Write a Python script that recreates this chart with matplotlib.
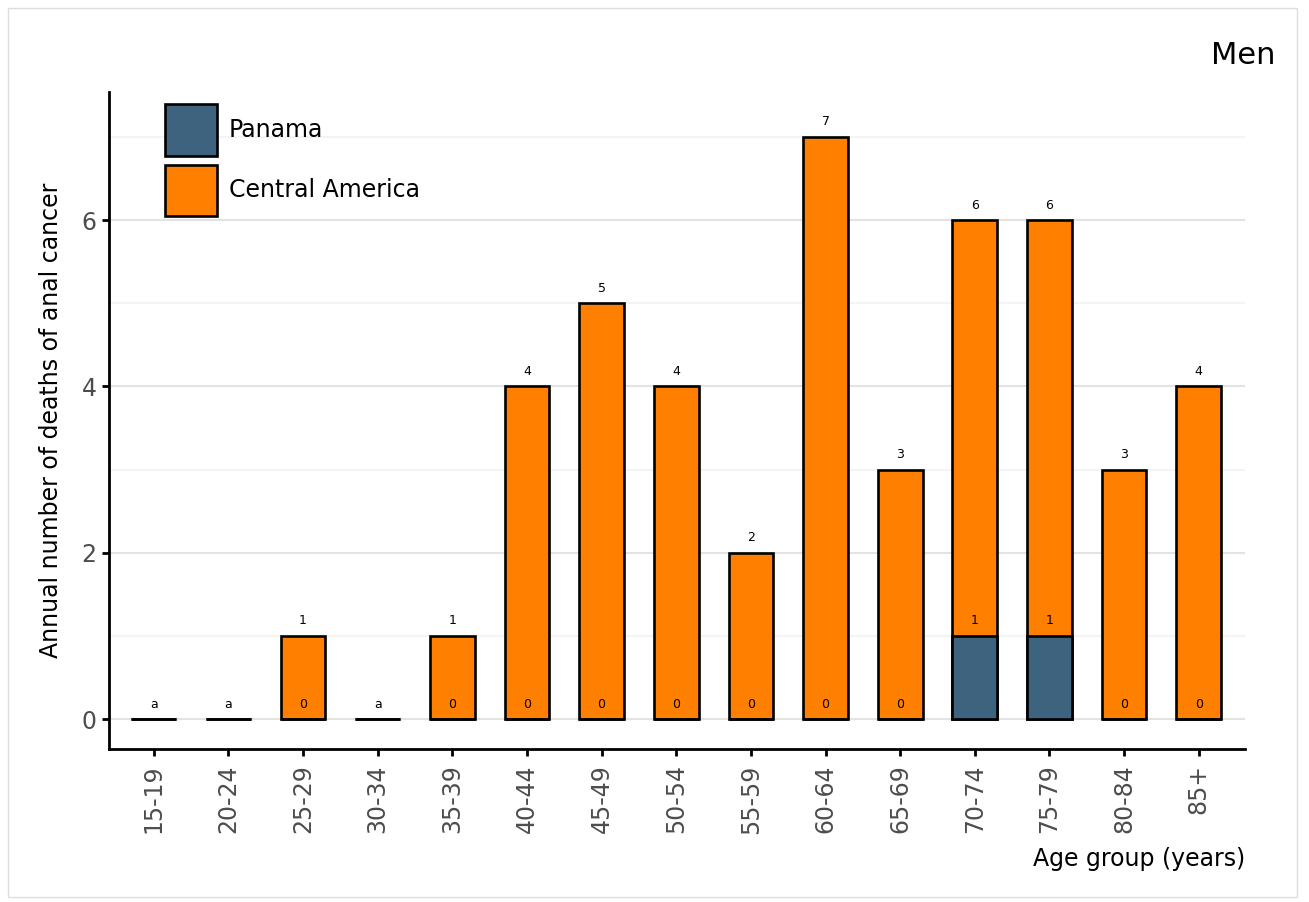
import matplotlib
matplotlib.use("Agg")
import matplotlib.pyplot as plt
from matplotlib.patches import Rectangle, Patch
import numpy as np

age_groups = ["15-19", "20-24", "25-29", "30-34", "35-39", "40-44", "45-49",
              "50-54", "55-59", "60-64", "65-69", "70-74", "75-79", "80-84", "85+"]
central_america = [0, 0, 1, 0, 1, 4, 5, 4, 2, 7, 3, 6, 6, 3, 4]
panama = [0, 0, 0, 0, 0, 0, 0, 0, 0, 0, 0, 1, 1, 0, 0]
suppressed = [True, True, False, True, False, False, False, False, False,
              False, False, False, False, False, False]

ORANGE = "#ff7f00"
BLUE = "#3e637e"

W, H = 1309, 902
fig = plt.figure(figsize=(W / 100, H / 100), dpi=100)
fig.patch.set_facecolor("white")

# outer light border
fig.add_artist(Rectangle((8 / W, 1 - 897 / H), (1297 - 8) / W, (897 - 8) / H,
                         transform=fig.transFigure, fill=False,
                         edgecolor="#dddddd", linewidth=1.0))

ax = fig.add_axes([109 / W, 1 - 749 / H, (1245 - 109) / W, (749 - 92) / H])
x = np.arange(len(age_groups))
bw = 0.6

ax.bar(x, central_america, width=bw, color=ORANGE, edgecolor="black",
       linewidth=1.9, zorder=3, label="Central America")
ax.bar(x, panama, width=bw, color=BLUE, edgecolor="black",
       linewidth=1.9, zorder=4, label="Panama")

off = 0.18
lab_fs = 9
for i in range(len(age_groups)):
    if suppressed[i]:
        ax.text(x[i], off, "a", ha="center", va="center", fontsize=lab_fs, zorder=5)
    else:
        ax.text(x[i], central_america[i] + off, str(central_america[i]),
                ha="center", va="center", fontsize=lab_fs, zorder=5)
        ax.text(x[i], panama[i] + off, str(panama[i]),
                ha="center", va="center", fontsize=lab_fs, zorder=5)

ax.set_xlim(-0.6, 14.62)
ax.set_ylim(-0.36, 7.54)
ax.set_yticks([0, 2, 4, 6])
ax.set_yticks([1, 3, 5, 7], minor=True)
ax.set_xticks(x)
ax.set_xticklabels(age_groups, rotation=90, fontsize=17, color="#4d4d4d")
ax.tick_params(axis="y", which="major", labelsize=17, labelcolor="#4d4d4d",
               length=5, width=2, pad=4)
ax.tick_params(axis="y", which="minor", length=0)
ax.tick_params(axis="x", length=5, width=2, pad=6)
ax.grid(axis="y", which="major", color="#e3e3e3", linewidth=1.5, zorder=0)
ax.grid(axis="y", which="minor", color="#f4f4f4", linewidth=1.5, zorder=0)
ax.set_axisbelow(True)
for s in ["top", "right"]:
    ax.spines[s].set_visible(False)
for s in ["left", "bottom"]:
    ax.spines[s].set_linewidth(2)
    ax.spines[s].set_color("black")

ax.set_ylabel("Annual number of deaths of anal cancer", fontsize=17, labelpad=13)
ax.set_xlabel("Age group (years)", fontsize=17, loc="right", labelpad=10)

handles = [Patch(facecolor=BLUE, edgecolor="black", linewidth=1.9),
           Patch(facecolor=ORANGE, edgecolor="black", linewidth=1.9)]
leg = ax.legend(handles, ["Panama", "Central America"], frameon=False,
                fontsize=17, handlelength=2.2, handleheight=3.0,
                handletextpad=0.5, labelspacing=0.38, borderpad=0,
                loc="upper left",
                bbox_to_anchor=(153 / W, 1 - 92 / H),
                bbox_transform=fig.transFigure)

fig.text(1276 / W, 1 - 55 / H, "Men", fontsize=22, ha="right", va="center")

fig.savefig("out.png", dpi=100)
